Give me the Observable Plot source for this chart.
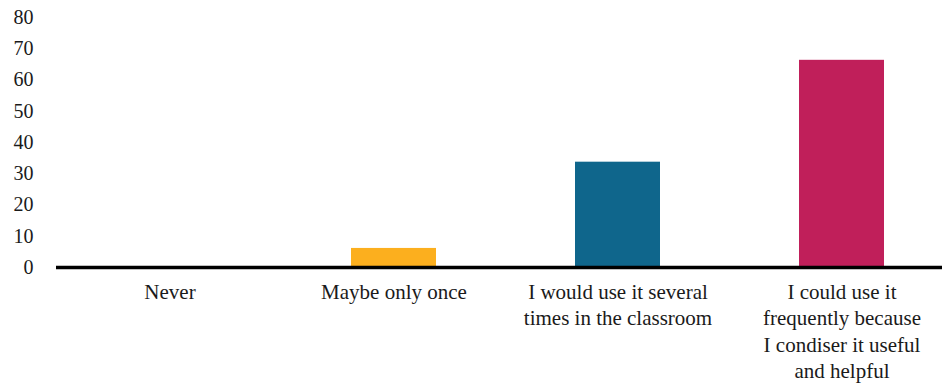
<!DOCTYPE html>
<html>
<head>
<meta charset="utf-8">
<script src="https://cdn.jsdelivr.net/npm/d3@7"></script>
<script src="https://cdn.jsdelivr.net/npm/@observablehq/plot@0.6"></script>
<style>
  html, body { margin: 0; padding: 0; background: #fff; }
  #chart svg { display: block; }
</style>
</head>
<body>
<div id="chart"></div>
<script>
const categories = [
  "Never",
  "Maybe only once",
  "I would use it several times in the classroom",
  "I could use it frequently because I condiser it useful and helpful"
];
const tickLabels = [
  "Never",
  "Maybe only once",
  "I would use it several\ntimes in the classroom",
  "I could use it\nfrequently because\nI condiser it useful\nand helpful"
];
const values = [0, 6.1, 33.7, 66.3];
const colors = ["#FCAF1E", "#FCAF1E", "#0F668C", "#C01F5A"];
const yTicks = [0, 10, 20, 30, 40, 50, 60, 70, 80];

const data = categories.map((c, i) => ({category: c, value: values[i], color: colors[i]}));
const labelOf = new Map(categories.map((c, i) => [c, tickLabels[i]]));

const W = 942, H = 390;
const plot = Plot.plot({
  width: W,
  height: H,
  marginLeft: 56,
  marginRight: 0,
  marginTop: 17,
  marginBottom: 123,
  style: {fontFamily: "'Liberation Serif', 'DejaVu Serif', serif", fontSize: "20px", color: "#1a1a1a", background: "#fff"},
  x: {domain: categories, range: [56, 955], paddingInner: 0.62, paddingOuter: 0.31},
  y: {domain: [0, 80]},
  marks: [
    Plot.barY(data, {x: "category", y: "value", fill: "color"}),
    Plot.ruleY([0], {stroke: "#000", strokeWidth: 3.5}),
    Plot.axisY({ticks: yTicks, tickSize: 0, tickPadding: 23, label: null, fontSize: 20}),
    Plot.axisX({tickSize: 0, tickPadding: 13, label: null, fontSize: 21, lineHeight: 1.25,
      tickFormat: d => labelOf.get(d)})
  ]
});
document.getElementById("chart").appendChild(plot);
</script>
</body>
</html>
